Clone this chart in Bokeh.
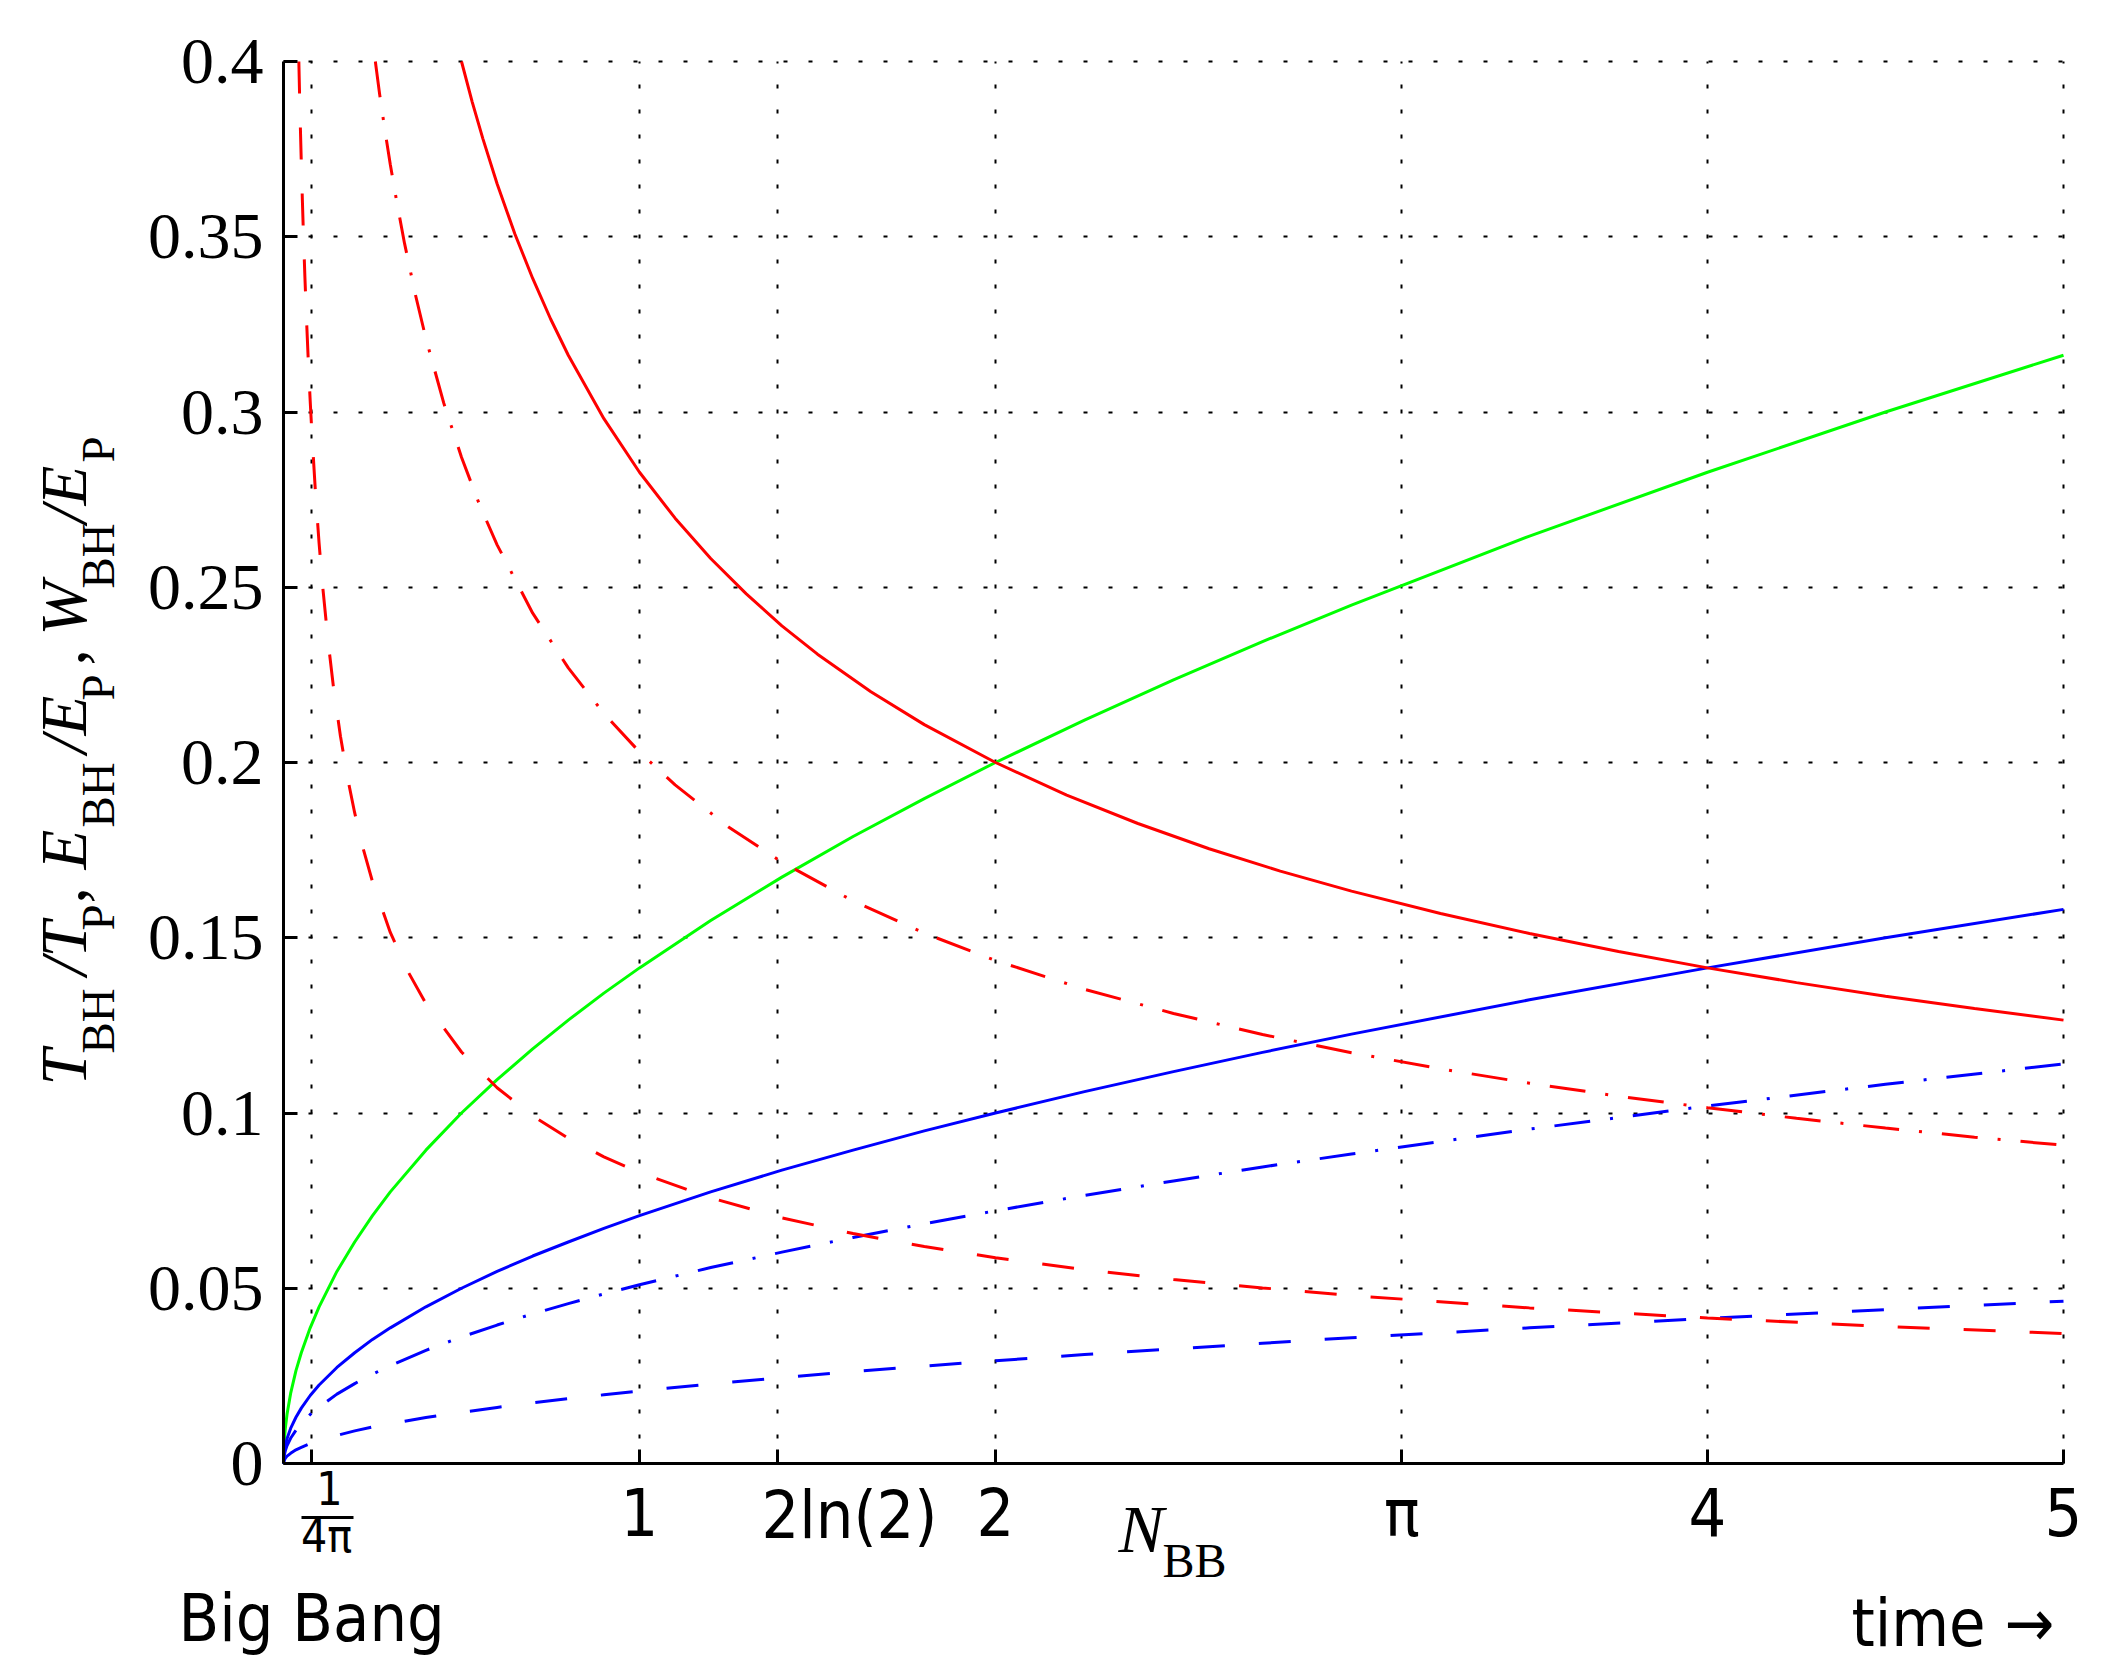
import math
from bokeh.plotting import figure
from bokeh.models import Range1d, FixedTicker, Label, BoxAnnotation, LinearAxis, Grid
from bokeh.embed import file_html
from bokeh.resources import INLINE

# values
n_rise = [0, 0.002, 0.005, 0.01, 0.02, 0.035, 0.05, 0.075, 0.1, 0.15, 0.2, 0.25, 0.3, 0.4,
          0.5, 0.6, 0.7, 0.8, 0.9, 1, 1.2, 1.4, 1.6, 1.8, 2, 2.25, 2.5, 2.75, 3, 3.5, 4, 4.5, 5]
green = [0, 0.0063, 0.0100, 0.0141, 0.0200, 0.0265, 0.0316, 0.0387, 0.0447, 0.0548, 0.0632,
         0.0707, 0.0775, 0.0894, 0.1000, 0.1095, 0.1183, 0.1265, 0.1342, 0.1414, 0.1549,
         0.1673, 0.1789, 0.1897, 0.2000, 0.2121, 0.2236, 0.2345, 0.2449, 0.2646, 0.2828,
         0.3000, 0.3162]
blue_solid = [0, 0.0032, 0.0050, 0.0071, 0.0100, 0.0132, 0.0158, 0.0194, 0.0224, 0.0274,
              0.0316, 0.0354, 0.0387, 0.0447, 0.0500, 0.0548, 0.0592, 0.0632, 0.0671, 0.0707,
              0.0775, 0.0837, 0.0894, 0.0949, 0.1000, 0.1061, 0.1118, 0.1173, 0.1225, 0.1323,
              0.1414, 0.1500, 0.1581]
blue_dashdot = [0, 0.0023, 0.0036, 0.0051, 0.0072, 0.0095, 0.0114, 0.0140, 0.0161, 0.0198,
                0.0228, 0.0255, 0.0279, 0.0323, 0.0361, 0.0395, 0.0427, 0.0456, 0.0484,
                0.0510, 0.0559, 0.0603, 0.0645, 0.0684, 0.0721, 0.0765, 0.0806, 0.0846,
                0.0883, 0.0954, 0.1020, 0.1082, 0.1140]
blue_dashed = [0, 0.0009, 0.0015, 0.0021, 0.0029, 0.0039, 0.0046, 0.0057, 0.0065, 0.0080,
               0.0093, 0.0104, 0.0113, 0.0131, 0.0146, 0.0160, 0.0173, 0.0185, 0.0196,
               0.0207, 0.0227, 0.0245, 0.0262, 0.0278, 0.0293, 0.0311, 0.0327, 0.0343,
               0.0359, 0.0387, 0.0414, 0.0439, 0.0463]

n_red_solid = [0.5, 0.53, 0.56, 0.6, 0.65, 0.7, 0.75, 0.8, 0.9, 1, 1.1, 1.2, 1.3, 1.4, 1.5,
               1.65, 1.8, 2, 2.2, 2.4, 2.6, 2.8, 3, 3.25, 3.5, 3.75, 4, 4.25, 4.5, 4.75, 5]
red_solid = [0.4, 0.3885, 0.3780, 0.3651, 0.3508, 0.3381, 0.3266, 0.3162, 0.2981, 0.2828,
             0.2697, 0.2582, 0.2481, 0.2390, 0.2309, 0.2202, 0.2108, 0.2000, 0.1907, 0.1826,
             0.1754, 0.1690, 0.1633, 0.1569, 0.1512, 0.1461, 0.1414, 0.1372, 0.1333, 0.1298,
             0.1265]

n_red_dashdot = [0.258, 0.27, 0.285, 0.3, 0.32, 0.34, 0.37, 0.4, 0.45, 0.5, 0.55, 0.6, 0.7,
                 0.8, 0.9, 1, 1.1, 1.25, 1.4, 1.6, 1.8, 2, 2.25, 2.5, 2.75, 3, 3.25, 3.5,
                 3.75, 4, 4.25, 4.5, 4.75, 5]
red_dashdot = [0.4, 0.3907, 0.3803, 0.3706, 0.3589, 0.3481, 0.3337, 0.3210, 0.3026, 0.2871,
               0.2737, 0.2621, 0.2426, 0.2270, 0.2140, 0.2030, 0.1936, 0.1816, 0.1716,
               0.1605, 0.1513, 0.1435, 0.1353, 0.1284, 0.1224, 0.1172, 0.1126, 0.1085,
               0.1048, 0.1015, 0.0985, 0.0957, 0.0931, 0.0908]

n_red_dashed = [0.0431, 0.045, 0.0475, 0.05, 0.053, 0.056, 0.06, 0.065, 0.07, 0.075, 0.08,
                0.09, 0.1, 0.11, 0.125, 0.14, 0.16, 0.18, 0.2, 0.225, 0.25, 0.3, 0.35, 0.4,
                0.5, 0.6, 0.7, 0.8, 0.9, 1, 1.2, 1.4, 1.6, 1.8, 2, 2.25, 2.5, 2.75, 3, 3.5,
                4, 4.5, 5]
red_dashed = [0.4, 0.3913, 0.3808, 0.3712, 0.3605, 0.3507, 0.3388, 0.3256, 0.3137, 0.3031,
              0.2935, 0.2767, 0.2625, 0.2503, 0.2348, 0.2218, 0.2075, 0.1956, 0.1856, 0.1750,
              0.1660, 0.1515, 0.1403, 0.1312, 0.1174, 0.1072, 0.0992, 0.0928, 0.0875, 0.0830,
              0.0758, 0.0701, 0.0656, 0.0619, 0.0587, 0.0553, 0.0525, 0.0501, 0.0479, 0.0444,
              0.0415, 0.0391, 0.0371]

x_ticks = [1 / (4 * math.pi), 1, 2 * math.log(2), 2, math.pi, 4, 5]
x_tick_labels = ["", "1", "", "2", "π", "4", "5"]
y_ticks = [0, 0.05, 0.1, 0.15, 0.2, 0.25, 0.3, 0.35, 0.4]
y_tick_labels = ["0", "0.05", "0.1", "0.15", "0.2", "0.25", "0.3", "0.35", "0.4"]

SERIF = "Liberation Serif"
SANS = "DejaVu Sans Condensed"

W, H = 2116, 1674
FL, FT, FR, FB = 283, 61, 2063, 1463   # where the data box sits on the page
sx = 5 / (FR - FL)      # data per pixel
sy = 0.4 / (FB - FT)
LIFT = 20               # labels sit this much lower than their anchor

# the frame fills the whole canvas, so texts around the data box are not clipped
p = figure(width=W, height=H,
           x_range=Range1d(-FL * sx, (W - FL) * sx),
           y_range=Range1d(-(H - FB) * sy, FB * sy),
           x_axis_location=None, y_axis_location=None,
           output_backend="svg", toolbar_location=None, min_border=0)
p.title.visible = False
p.outline_line_color = None
p.background_fill_color = "white"
p.border_fill_color = "white"
p.center = [r for r in p.center if not isinstance(r, Grid)]

for dim, ticks, b, cb in ((0, x_ticks, (0, 5), (0, 0.4)), (1, y_ticks, (0, 0.4), (0, 5))):
    p.add_layout(Grid(dimension=dim, ticker=FixedTicker(ticks=ticks), bounds=b, cross_bounds=cb,
                      grid_line_color="black", grid_line_width=2, grid_line_dash="4 21"))

xaxis = LinearAxis(fixed_location=0, bounds=(0, 5), ticker=FixedTicker(ticks=x_ticks),
                   major_label_overrides=dict(zip(x_ticks, x_tick_labels)),
                   major_label_text_font=SANS, major_label_text_font_size="66px",
                   major_label_standoff=11)
yaxis = LinearAxis(fixed_location=0, bounds=(0, 0.4), ticker=FixedTicker(ticks=y_ticks),
                   major_label_overrides=dict(zip(y_ticks, y_tick_labels)),
                   major_label_text_font=SERIF, major_label_text_font_size="66px",
                   major_label_standoff=20)
for ax in (xaxis, yaxis):
    ax.axis_line_width = 3
    ax.axis_line_color = "black"
    ax.major_tick_in = 14
    ax.major_tick_out = 0
    ax.major_tick_line_width = 3
    ax.minor_tick_line_color = None
    ax.major_label_text_color = "black"
p.add_layout(xaxis, "below")
p.add_layout(yaxis, "left")

p.line(n_rise, green, color="#00ff00", line_width=3)
p.line(n_rise, blue_solid, color="#0000ff", line_width=3)
p.line(n_rise, blue_dashdot, color="#0000ff", line_width=3, line_dash="36 20 3 20")
p.line(n_rise, blue_dashed, color="#0000ff", line_width=3, line_dash="32 34")
p.line(n_red_solid, red_solid, color="#ff0000", line_width=3)
p.line(n_red_dashdot, red_dashdot, color="#ff0000", line_width=3, line_dash="36 20 3 20")
p.line(n_red_dashed, red_dashed, color="#ff0000", line_width=3, line_dash="32 34")


def put(text, px, py, size, font=SERIF, style="normal", angle=0, align="left"):
    # px, py: page pixels of the text's baseline start
    if angle:
        px -= LIFT
    else:
        py -= LIFT
    p.add_layout(Label(x=(px - FL) * sx, y=(FB - py) * sy, text=text,
                       text_font=font, text_font_size=f"{size}px", text_font_style=style,
                       text_color="black", angle=angle, text_align=align,
                       text_baseline="alphabetic"))


# rotated y label, segment by segment (main text and subscripts)
ylabel_parts = [("T", 1085, 0, "italic"), ("BH", 1053, 1, "normal"),
                ("/T", 975, 0, "italic"), ("P", 930, 1, "normal"),
                (",", 903, 0, "normal"), ("E", 869, 0, "italic"),
                ("BH", 827, 1, "normal"), ("/E", 753, 0, "italic"),
                ("P", 700, 1, "normal"), (",", 665, 0, "normal"),
                ("W", 635, 0, "italic"), ("BH", 588, 1, "normal"),
                ("/E", 523, 0, "italic"), ("P", 462, 1, "normal")]
for txt, py, sub, style in ylabel_parts:
    put(txt, 117 if sub else 83, py, 47 if sub else 65, style=style, angle=math.pi / 2)

# 1/(4 pi) fraction under the first tick
put("1", 329, 1507, 46, font=SANS, align="center")
put("4π", 326, 1555, 46, font=SANS, align="center")
p.add_layout(BoxAnnotation(left=(301 - FL) * sx, right=(353 - FL) * sx,
                           top=(FB - 1515.5) * sy, bottom=(FB - 1518.5) * sy,
                           fill_color="black", fill_alpha=1, line_color=None))

put("2ln(2)", 761, 1535, 66, font=SANS)
put("N", 1118, 1548, 68, style="italic")
put("BB", 1162, 1580, 48)
put("Big Bang", 178, 1638, 66, font=SANS)
put("time →", 1851, 1643, 66, font=SANS)

open("out.html", "w").write(file_html(p, INLINE))
